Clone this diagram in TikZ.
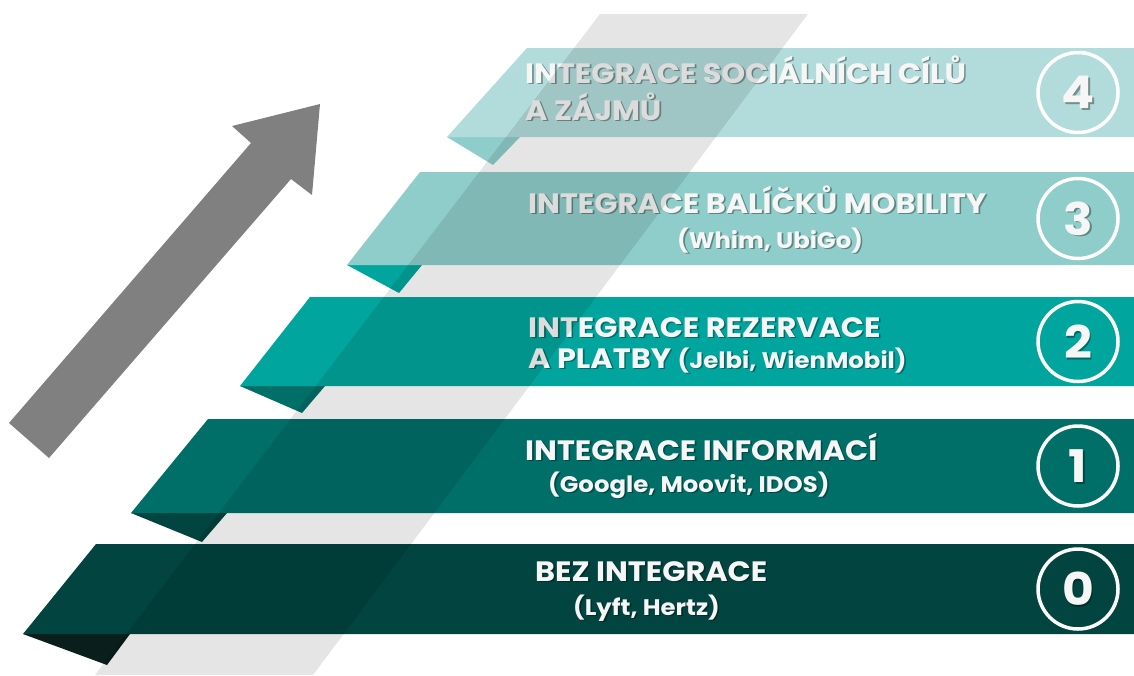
\documentclass[tikz,border=0pt]{standalone}
\usepackage{fontspec}
\setmainfont{Poppins}[FakeStretch=1.085]
\definecolor{cA}{HTML}{B2DCDB}
\definecolor{cB}{HTML}{8ECDC9}
\definecolor{cC}{HTML}{00A59D}
\definecolor{cD}{HTML}{006F68}
\definecolor{cE}{HTML}{02443F}
\definecolor{cF}{HTML}{0A1E1C}
\definecolor{arrowgray}{HTML}{808080}
\definecolor{txtcol}{HTML}{F6F6F6}
\newcommand\ftitle{\fontsize{28}{30}\selectfont\bfseries}
\newcommand\fsub{\fontsize{22.5}{25}\selectfont\bfseries}
\newcommand\fnum{\fontsize{45}{48}\selectfont\bfseries}
\tikzset{
  txt/.style={anchor=base west, inner sep=0pt, text=txtcol},
  shd/.style={anchor=base west, inner sep=0pt, text=black, text opacity=0.35},
  ring/.style={circle, draw=white, line width=3.5pt, minimum size=80pt, inner sep=0pt},
}
\newcommand\lbl[4]{%
  \node[shd,font=#3,xshift=1.6pt,yshift=-1.6pt] (#1s) at (#2) {#4};
  \node[txt,font=#3] (#1) at (#2) {#4};}
\newcommand\numlbl[3]{%
  \node[ring] (#1) at (#2) {};
  \node[font=\fnum, text=black, text opacity=0.35, inner sep=0pt, xshift=1.8pt, yshift=-1.8pt] (#1ds) at (#2) {#3};
  \node[font=\fnum, text=txtcol, inner sep=0pt] (#1d) at (#2) {#3};}
\begin{document}
\begin{tikzpicture}[x=1pt,y=-1pt]
\useasboundingbox (0,0) rectangle (1134,675);
\fill[white] (0,0) rectangle (1134,675);
% arrow
\fill[arrowgray] (320,104) -- (312,195) -- (291,179) -- (49,458) -- (9,423) -- (251,143) -- (232,126) -- cycle;
% band 4
\fill[cB] (447,137) -- (520,137) -- (493,165) -- cycle;
\fill[cA] (527,48) -- (1134,48) -- (1134,137) -- (447,137) -- cycle;
% band 3
\fill[cC] (347,265) -- (422,265) -- (399,293) -- cycle;
\fill[cB] (420,172) -- (1134,172) -- (1134,265) -- (347,265) -- cycle;
% band 2
\fill[cD] (240,386) -- (325,386) -- (302,413) -- cycle;
\fill[cC] (310,297) -- (1134,297) -- (1134,386) -- (240,386) -- cycle;
% band 1
\fill[cE] (131,513) -- (227,513) -- (202,542) -- cycle;
\fill[cD] (208,419) -- (1134,419) -- (1134,513) -- (131,513) -- cycle;
% band 0
\fill[cF] (23,634) -- (130,634) -- (107,665) -- cycle;
\fill[cE] (96,544) -- (1134,544) -- (1134,634) -- (23,634) -- cycle;
% texts
\lbl{t4a}{525,83}{\ftitle}{INTEGRACE SOCIÁLNÍCH CÍLŮ}
\lbl{t4b}{525,120}{\ftitle}{A ZÁJMŮ}
\lbl{t3a}{528,213}{\ftitle}{INTEGRACE BALÍČKŮ MOBILITY}
\lbl{t3b}{677,248}{\fsub}{(Whim, UbiGo)}
\lbl{t2a}{528,337}{\ftitle}{INTEGRACE REZERVACE}
\lbl{t2b}{528,368}{\ftitle}{A PLATBY {\fsub(Jelbi, WienMobil)}}
\lbl{t1a}{525,460}{\ftitle}{INTEGRACE INFORMACÍ}
\lbl{t1b}{548,492}{\fsub}{(Google, Moovit, IDOS)}
\lbl{t0a}{535,581}{\ftitle}{BEZ INTEGRACE}
\lbl{t0b}{573,615}{\fsub}{(Lyft, Hertz)}
% gray diagonal band
\fill[black, opacity=0.1] (600,14) -- (808,14) -- (313,675) -- (95,675) -- cycle;
% numbers
\numlbl{n4}{1078,92.5}{4}
\numlbl{n3}{1078,218.5}{3}
\numlbl{n2}{1078,341.5}{2}
\numlbl{n1}{1078,466}{1}
\numlbl{n0}{1078,589}{0}
\end{tikzpicture}
\end{document}
